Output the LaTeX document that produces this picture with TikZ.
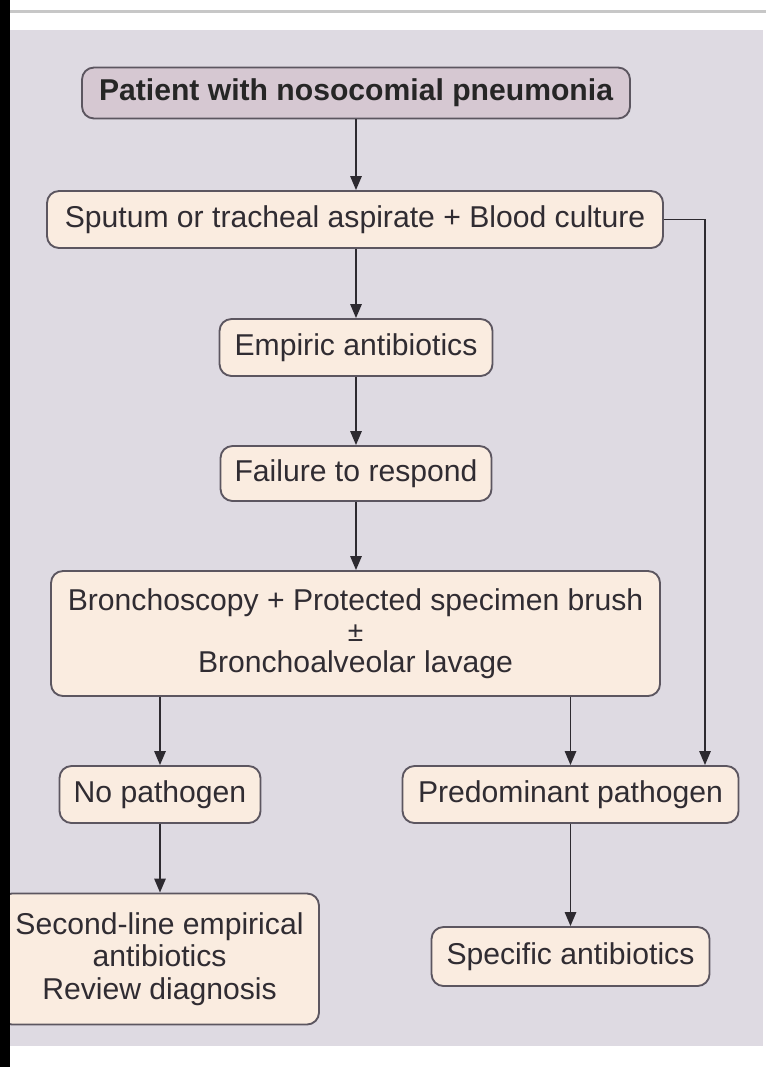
\documentclass[tikz,border=0pt]{standalone}
\usepackage{fontspec}
\setmainfont{Liberation Sans}
\usetikzlibrary{arrows.meta}
\definecolor{bgc}{RGB}{222,218,226}
\definecolor{topfill}{RGB}{214,200,210}
\definecolor{boxfill}{RGB}{250,236,224}
\definecolor{edgec}{RGB}{92,86,96}
\definecolor{txtc}{RGB}{48,44,50}
\definecolor{linec}{RGB}{45,42,48}
\tikzset{
  box/.style={draw=edgec, line width=1.4pt, fill=boxfill, rounded corners=9pt,
    inner sep=0pt, align=center, text=txtc,
    font=\fontsize{22.6pt}{24pt}\selectfont},
  topbox/.style={box, fill=topfill, font=\fontsize{22.6pt}{24pt}\selectfont\bfseries, text=black!85},
  arr/.style={draw=linec, line width=1.4pt, -{Triangle[length=10.5pt,width=8.5pt]}},
  lin/.style={draw=linec, line width=1.4pt}
}
\begin{document}
\begin{tikzpicture}[x=0.75pt,y=-0.75pt]
\useasboundingbox (0,0) rectangle (766,1067);
\fill[white] (0,0) rectangle (766,1067);
\fill[bgc] (0,30) rectangle (763,1046);
\fill[black!22] (10,10) rectangle (766,12.5);

\node[topbox, minimum width={548*0.75pt}, minimum height={51*0.75pt}] (pat) at (356,93) {Patient with nosocomial pneumonia};
\node[box, minimum width={616*0.75pt}, minimum height={57*0.75pt}] (sput) at (355,219.5) {Sputum or tracheal aspirate + Blood culture};
\node[box, minimum width={273*0.75pt}, minimum height={57*0.75pt}] (emp) at (356,347.5) {Empiric antibiotics};
\node[box, minimum width={271*0.75pt}, minimum height={55*0.75pt}] (fail) at (356,473.5) {Failure to respond};
\node[box, minimum width={609*0.75pt}, minimum height={125*0.75pt}, font=\fontsize{22.6pt}{23.3pt}\selectfont] (bron) at (355.5,633.5) {Bronchoscopy + Protected specimen brush\\{\fontsize{21pt}{21pt}\selectfont ±}\\Bronchoalveolar lavage};
\node[box, minimum width={201*0.75pt}, minimum height={57*0.75pt}] (nop) at (160,794.5) {No pathogen};
\node[box, minimum width={336*0.75pt}, minimum height={57*0.75pt}] (pred) at (570.5,794.5) {Predominant pathogen};
\node[box, minimum width={319*0.75pt}, minimum height={131*0.75pt}, font=\fontsize{22.6pt}{24.4pt}\selectfont] (sec) at (159.5,959) {Second-line empirical\\antibiotics\\Review diagnosis};
\node[box, minimum width={278*0.75pt}, minimum height={59*0.75pt}] (spec) at (570.5,956.5) {Specific antibiotics};

\draw[arr] (pat.south) -- (pat.south |- sput.north);
\draw[arr] (sput.south -| emp.north) -- (emp.north);
\draw[arr] (emp.south) -- (fail.north);
\draw[arr] (fail.south) -- (fail.south |- bron.north);
\draw[arr] (nop.north |- bron.south) -- (nop.north);
\draw[arr] (pred.north |- bron.south) -- (pred.north);
\coordinate (c1) at (705,219.5);
\draw[arr] (sput.east) -- (c1) -- (c1 |- pred.north);
\draw[arr] (nop.south) -- (nop.south |- sec.north);
\draw[arr] (pred.south) -- (spec.north);

\fill[black] (0,0) rectangle (10,1067);
\end{tikzpicture}
\end{document}
